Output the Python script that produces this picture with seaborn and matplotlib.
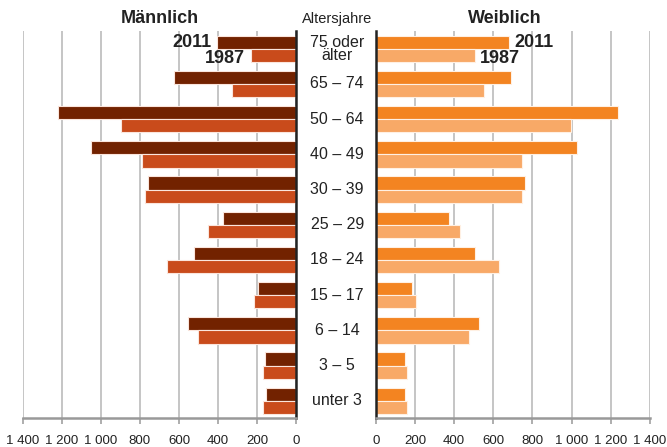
import seaborn as sns
import matplotlib.pyplot as plt
import matplotlib.transforms as mtransforms
import pandas as pd

# Altersgruppen, oben nach unten
groups = ["75 oder\nälter", "65 – 74", "50 – 64", "40 – 49", "30 – 39", "25 – 29",
          "18 – 24", "15 – 17", "6 – 14", "3 – 5", "unter 3"]
years = ["2011", "1987"]

male_2011 = [404, 624, 1218, 1052, 757, 374, 525, 196, 554, 159, 155]
male_1987 = [233, 328, 899, 791, 773, 450, 662, 216, 501, 170, 169]
female_2011 = [681, 691, 1235, 1028, 761, 375, 507, 187, 526, 151, 148]
female_1987 = [506, 555, 999, 746, 746, 432, 632, 206, 475, 161, 160]

x_ticks = [0, 200, 400, 600, 800, 1000, 1200, 1400]
x_tick_labels = ["0", "200", "400", "600", "800", "1 000", "1 200", "1 400"]

male_colors = ["#722200", "#c94b1b"]
female_colors = ["#f38421", "#f8a967"]


def long_frame(v2011, v1987):
    return pd.DataFrame({
        "group": groups * 2,
        "year": ["2011"] * len(groups) + ["1987"] * len(groups),
        "value": v2011 + v1987,
    })


sns.set_theme(style="white")
plt.rcParams['font.family'] = ['Liberation Sans', 'DejaVu Sans']

fig = plt.figure(figsize=(6.67, 4.47), dpi=100)
ax_m = fig.add_axes([0.034, 0.064, 0.410, 0.8664])
ax_f = fig.add_axes([0.5633, 0.064, 0.411, 0.8664])

sns.barplot(data=long_frame(male_2011, male_1987), x="value", y="group", hue="year",
            hue_order=years, order=groups, palette=male_colors, orient="h",
            width=0.75, saturation=1, edgecolor="#fbe5dc", linewidth=0.8,
            legend=False, ax=ax_m)
sns.barplot(data=long_frame(female_2011, female_1987), x="value", y="group", hue="year",
            hue_order=years, order=groups, palette=female_colors, orient="h",
            width=0.75, saturation=1, edgecolor="#fff0e3", linewidth=0.8,
            legend=False, ax=ax_f)

for ax in (ax_m, ax_f):
    ax.set_ylim(len(groups) - 0.5, -0.5)
    ax.set_xticks(x_ticks)
    ax.set_xticklabels(x_tick_labels, fontsize=9.5, color="#222222")
    ax.set_yticks([])
    ax.set_xlabel("")
    ax.set_ylabel("")
    ax.grid(axis="x", color="#b5b5b5", linewidth=1.1)
    ax.set_axisbelow(True)
    ax.tick_params(axis="x", length=4, width=1.1, color="#999999", pad=8, bottom=True)
    ax.spines["top"].set_visible(False)
    ax.spines["bottom"].set_color("#999999")
    ax.spines["bottom"].set_linewidth(1.8)

ax_m.set_xlim(1400, 0)
ax_m.spines["left"].set_visible(False)
ax_m.spines["right"].set_color("#222222")
ax_m.spines["right"].set_linewidth(1.8)

ax_f.set_xlim(0, 1400)
ax_f.spines["right"].set_visible(False)
ax_f.spines["left"].set_color("#222222")
ax_f.spines["left"].set_linewidth(1.8)

# Altersgruppen-Beschriftung in der Mitte
trans = mtransforms.blended_transform_factory(fig.transFigure, ax_m.transData)
for i, g in enumerate(groups):
    ax_m.text(0.5055, i, g, transform=trans, ha="center", va="center",
              fontsize=11.5, color="#222222", linespacing=0.85)

fig.text(0.24, 0.958, "Männlich", ha="center", va="center", fontsize=13,
         fontweight="bold", color="#222222")
fig.text(0.757, 0.958, "Weiblich", ha="center", va="center", fontsize=13,
         fontweight="bold", color="#222222")
fig.text(0.5055, 0.958, "Altersjahre", ha="center", va="center", fontsize=10.5,
         color="#222222")

# Jahresbeschriftung an den obersten Balken
for ax, v2011, v1987, sign, ha in ((ax_m, male_2011, male_1987, -1, "right"),
                                   (ax_f, female_2011, female_1987, 1, "left")):
    ax.annotate(years[0], (v2011[0], -0.19), xytext=(sign * 4, 0),
                textcoords="offset points", ha=ha, va="center", fontsize=13,
                fontweight="bold", color="#222222")
    ax.annotate(years[1], (v1987[0], 0.19), xytext=(sign * 4, -2),
                textcoords="offset points", ha=ha, va="center", fontsize=13,
                fontweight="bold", color="#222222")

fig.savefig("out.png", dpi=100)
